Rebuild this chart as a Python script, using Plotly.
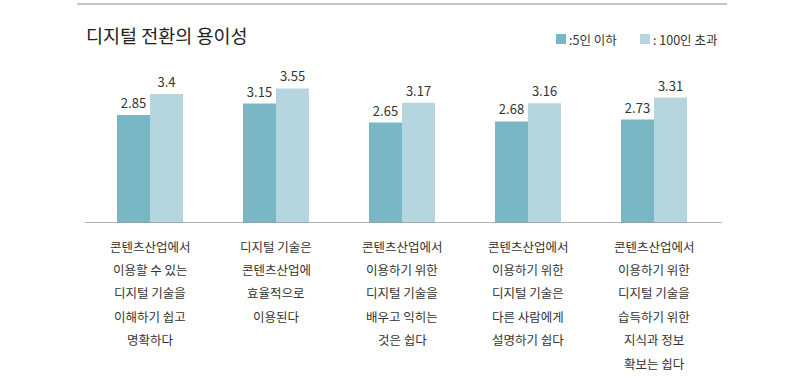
import plotly.graph_objects as go

title = "디지털 전환의 용이성"
categories = [
    "콘텐츠산업에서<br>이용할 수 있는<br>디지털 기술을<br>이해하기 쉽고<br>명확하다",
    "디지털 기술은<br>콘텐츠산업에<br>효율적으로<br>이용된다",
    "콘텐츠산업에서<br>이용하기 위한<br>디지털 기술을<br>배우고 익히는<br>것은 쉽다",
    "콘텐츠산업에서<br>이용하기 위한<br>디지털 기술은<br>다른 사람에게<br>설명하기 쉽다",
    "콘텐츠산업에서<br>이용하기 위한<br>디지털 기술을<br>습득하기 위한<br>지식과 정보<br>확보는 쉽다",
]
series_names = [":5인 이하", ": 100인 초과"]
small_values = [2.85, 3.15, 2.65, 2.68, 2.73]
large_values = [3.4, 3.55, 3.17, 3.16, 3.31]
colors = ["#79B7C5", "#B5D6DE"]

FONT = "Noto Sans CJK KR"
W, H = 800, 379
ML, MR, MT, MB = 87, 83, 60, 156
PW, PH = W - ML - MR, H - MT - MB

def px_x(x):
    return (x - ML) / PW

def px_y(y):
    return (H - MB - y) / PH

fig = go.Figure()
for name, vals, col in zip(series_names, [small_values, large_values], colors):
    fig.add_trace(go.Bar(
        x=categories, y=vals, name=name, marker=dict(color=col, line=dict(width=0)),
        text=[f"{v:g}" for v in vals], textposition="outside",
        textfont=dict(family=FONT, size=13, color="#333333"),
        cliponaxis=False, showlegend=False,
    ))

shapes = [
    dict(type="line", xref="paper", yref="paper", x0=px_x(77), x1=px_x(727),
         y0=px_y(4), y1=px_y(4), line=dict(color="#b3b3b3", width=1.5)),
    dict(type="line", xref="paper", yref="y", x0=px_x(85), x1=px_x(722),
         y0=0, y1=0, line=dict(color="#999999", width=1.5)),
]
annotations = [
    dict(text=title, xref="paper", yref="paper", x=px_x(84), y=px_y(35),
         xanchor="left", yanchor="middle", showarrow=False,
         font=dict(family=FONT, size=18.5, color="#222222")),
]

# legend
leg_sq_x = [556, 640]
for sx, name, col in zip(leg_sq_x, series_names, colors):
    shapes.append(dict(type="rect", xref="paper", yref="paper",
                       x0=px_x(sx), x1=px_x(sx + 10), y0=px_y(34), y1=px_y(44),
                       fillcolor=col, line=dict(width=0)))
    annotations.append(dict(text=name, xref="paper", yref="paper",
                            x=px_x(sx + 11), y=px_y(39), xanchor="left", yanchor="middle",
                            showarrow=False, font=dict(family=FONT, size=12.5, color="#333333")))

# category labels
for cat in categories:
    for i, line in enumerate(cat.split("<br>")):
        annotations.append(dict(text=line, x=cat, y=0, xref="x", yref="y",
                                yanchor="middle", xanchor="center", yshift=-(23 + 23.4 * i),
                                showarrow=False,
                                font=dict(family=FONT, size=12.5, color="#333333")))

fig.update_layout(
    width=W, height=H, margin=dict(l=ML, r=MR, t=MT, b=MB),
    paper_bgcolor="white", plot_bgcolor="white",
    barmode="group", bargap=0.476, bargroupgap=0,
    font=dict(family=FONT),
    xaxis=dict(showticklabels=False, showgrid=False, zeroline=False, showline=False, ticks=""),
    yaxis=dict(range=[0, 4.3], showticklabels=False, showgrid=False, zeroline=False, showline=False),
    shapes=shapes, annotations=annotations,
)
fig.write_html("out.html", config={"displayModeBar": False},
               post_script="document.body.style.margin='0';document.body.style.overflow='hidden';")
